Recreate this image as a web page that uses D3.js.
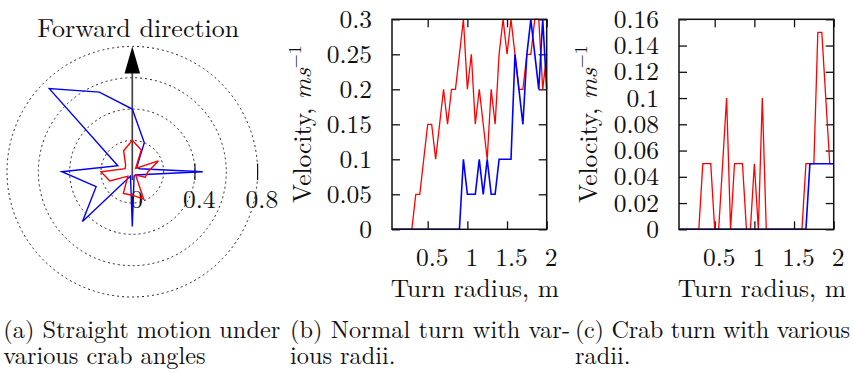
<!DOCTYPE html>
<html>
<head>
<meta charset="utf-8">
<script src="https://cdn.jsdelivr.net/npm/d3@7"></script>
</head>
<body style="margin:0;background:#fff">
<svg width="854" height="373"></svg>
<script>

// ---- data ----
// (a) straight motion, polar: crab angle (deg, ccw from right) -> velocity
var angles = [0, 22.5, 45, 67.5, 90, 112.5, 135, 157.5, 180, 202.5, 225, 247.5, 270, 292.5, 315, 337.5];
var straightBlue = [0.45, 0.05, 0.04, 0.2, 0.4, 0.55, 0.75, 0.1, 0.45, 0.25, 0.45, 0.03, 0.35, 0.03, 0.03, 0.05];
var straightRed  = [0.1, 0.18, 0.03, 0.15, 0.2, 0.145, 0.06, 0.05, 0.2, 0.155, 0.04, 0.15, 0.15, 0.19, 0.03, 0.09];
var polarRings = [0.2, 0.4, 0.6, 0.8];
var polarTicks = [0, 0.4, 0.8];

// (b), (c) turn radius in m
var radii = [0.05, 0.1, 0.15, 0.2, 0.25, 0.3, 0.35, 0.4, 0.45, 0.5,
             0.55, 0.6, 0.65, 0.7, 0.75, 0.8, 0.85, 0.9, 0.95, 1,
             1.05, 1.1, 1.15, 1.2, 1.25, 1.3, 1.35, 1.4, 1.45, 1.5,
             1.55, 1.6, 1.65, 1.7, 1.75, 1.8, 1.85, 1.9, 1.95, 2];

var normalRed  = [0, 0, 0, 0, 0, 0, 0.05, 0.05, 0.1, 0.15,
                  0.15, 0.1, 0.15, 0.2, 0.15, 0.2, 0.2, 0.25, 0.3, 0.2,
                  0.25, 0.15, 0.2, 0.15, 0.1, 0.2, 0.15, 0.25, 0.3, 0.25,
                  0.3, 0.25, 0.2, 0.2, 0.25, 0.25, 0.3, 0.3, 0.2, 0.25];
var normalBlue = [0, 0, 0, 0, 0, 0, 0, 0, 0, 0,
                  0, 0, 0, 0, 0, 0, 0, 0, 0.1, 0.05,
                  0.05, 0.05, 0.1, 0.05, 0.1, 0.05, 0.05, 0.1, 0.1, 0.1,
                  0.1, 0.25, 0.2, 0.15, 0.25, 0.3, 0.25, 0.2, 0.3, 0.2];

var crabRed  = [0, 0, 0, 0, 0, 0, 0.05, 0.05, 0.05, 0,
                0, 0.05, 0.1, 0, 0.05, 0.05, 0.05, 0, 0, 0.05,
                0, 0.1, 0, 0, 0, 0, 0, 0, 0, 0,
                0, 0, 0.05, 0.05, 0.05, 0.15, 0.15, 0.1, 0.05, 0.05];
var crabBlue = [0, 0, 0, 0, 0, 0, 0, 0, 0, 0,
                0, 0, 0, 0, 0, 0, 0, 0, 0, 0,
                0, 0, 0, 0, 0, 0, 0, 0, 0, 0,
                0, 0, 0, 0.05, 0.05, 0.05, 0.05, 0.05, 0.05, 0.05];

var xTicks = [0.5, 1, 1.5, 2];
var normalYTicks = [0, 0.05, 0.1, 0.15, 0.2, 0.25, 0.3];
var crabYTicks = [0, 0.02, 0.04, 0.06, 0.08, 0.1, 0.12, 0.14, 0.16];

var captions = [
  ["(a) Straight motion under", "various crab angles"],
  ["(b) Normal turn with var-", "ious radii."],
  ["(c) Crab turn with various", "radii."]
];

// Latin Modern is the Computer Modern look-alike
var FONT = "'Latin Modern Roman', 'Liberation Serif', monospace";
var FS = 25.5;

var svg = d3.select("svg").attr("font-family", FONT);

// ---- (a) polar plot ----
var r = d3.scaleLinear().domain([0, 0.8]).range([0, 125.3]);
var polar = svg.append("g").attr("transform", "translate(132.3,171.7)");

polar.selectAll("circle.ring")
  .data(polarRings)
  .enter().append("circle")
    .attr("class", "ring")
    .attr("r", function(d) { return r(d); })
    .attr("fill", "none")
    .attr("stroke", "#222")
    .attr("stroke-width", 1)
    .attr("stroke-dasharray", "2,3");

// radial axis ticks and labels
polar.selectAll("line.rtick")
  .data(polarTicks.filter(function(d) { return d > 0; }))
  .enter().append("line")
    .attr("class", "rtick")
    .attr("x1", function(d) { return r(d); })
    .attr("x2", function(d) { return r(d); })
    .attr("y1", -8.3)
    .attr("y2", 8.3)
    .attr("stroke", "#111")
    .attr("stroke-width", 1.2);

polar.selectAll("text.rlabel")
  .data(polarTicks)
  .enter().append("text")
    .attr("class", "rlabel")
    .attr("x", function(d) { return r(d) + 4.3; })
    .attr("y", 36.3)
    .attr("text-anchor", "middle")
    .attr("font-family", FONT)
    .attr("font-size", FS)
    .attr("fill", "#111")
    .text(function(d) { return d; });

// forward direction arrow
polar.append("line")
  .attr("x1", 0).attr("x2", 0)
  .attr("y1", 8.3)
  .attr("y2", -r(0.8) + 26)
  .attr("stroke", "#444")
  .attr("stroke-width", 1.7);
polar.append("path")
  .attr("d", "M0," + (-r(0.8)) + "L-7.8," + (-r(0.8) + 27) + "L7.8," + (-r(0.8) + 27) + "Z")
  .attr("fill", "#000");

svg.append("text")
  .attr("x", 138.2)
  .attr("y", 37.3)
  .attr("text-anchor", "middle")
  .attr("font-family", FONT)
  .attr("font-size", 26)
  .attr("fill", "#111")
  .text("Forward direction");

var radial = d3.lineRadial()
  .angle(function(d, i) { return (90 - angles[i]) * Math.PI / 180; })
  .radius(function(d) { return r(d); })
  .curve(d3.curveLinearClosed);

polar.append("path")
  .attr("d", radial(straightBlue))
  .attr("fill", "none")
  .attr("stroke", "#0000ff")
  .attr("stroke-width", 1.4);
polar.append("path")
  .attr("d", radial(straightRed))
  .attr("fill", "none")
  .attr("stroke", "#ff0000")
  .attr("stroke-width", 1.4);

// ---- (b), (c) line panels ----
function panel(left, yDomain, yTicks, redVals, blueVals, titleX) {
  var top = 19.3, bottom = 229.3, w = 154.7;
  var x = d3.scaleLinear().domain([radii[0], 2]).range([left, left + w]);
  var y = d3.scaleLinear().domain(yDomain).range([bottom, top]);

  function style(g) {
    g.attr("font-family", FONT).attr("font-size", FS).attr("color", "#111");
    g.select(".domain").remove();
    g.selectAll(".tick line").attr("stroke-width", 1.3);
  }

  svg.append("g")
    .attr("transform", "translate(" + left + ",0)")
    .call(d3.axisLeft(y).tickValues(yTicks).tickSizeInner(-8).tickSizeOuter(0)
      .tickPadding(20).tickFormat(function(d) { return d; }))
    .call(style);
  svg.append("g")
    .attr("transform", "translate(" + (left + w) + ",0)")
    .call(d3.axisRight(y).tickValues(yTicks).tickSizeInner(-8).tickSizeOuter(0).tickFormat(""))
    .call(style);
  svg.append("g")
    .attr("transform", "translate(0," + bottom + ")")
    .call(d3.axisBottom(x).tickValues(xTicks).tickSizeInner(-8).tickSizeOuter(0)
      .tickPadding(19).tickFormat(function(d) { return d; }))
    .call(style)
    .selectAll("text").attr("dx", 4);
  svg.append("g")
    .attr("transform", "translate(0," + top + ")")
    .call(d3.axisTop(x).tickValues(xTicks).tickSizeInner(-8).tickSizeOuter(0).tickFormat(""))
    .call(style);

  var line = d3.line()
    .x(function(d, i) { return x(radii[i]); })
    .y(function(d) { return y(d); });

  svg.append("path")
    .attr("d", line(redVals))
    .attr("fill", "none")
    .attr("stroke", "#ff0000")
    .attr("stroke-width", 1.3);
  svg.append("path")
    .attr("d", line(blueVals))
    .attr("fill", "none")
    .attr("stroke", "#0000ff")
    .attr("stroke-width", 1.6);

  svg.append("rect")
    .attr("x", left).attr("y", top)
    .attr("width", w).attr("height", bottom - top)
    .attr("fill", "none")
    .attr("stroke", "#111")
    .attr("stroke-width", 1.5);

  svg.append("text")
    .attr("x", left + w / 2 + 5.5)
    .attr("y", 297)
    .attr("text-anchor", "middle")
    .attr("font-family", FONT)
    .attr("font-size", FS)
    .attr("fill", "#111")
    .text("Turn radius, m");

  var yt = svg.append("text")
    .attr("transform", "translate(" + titleX + ",124) rotate(-90)")
    .attr("text-anchor", "middle")
    .attr("font-family", FONT)
    .attr("font-size", FS)
    .attr("fill", "#111");
  yt.append("tspan").text("Velocity, ");
  yt.append("tspan").attr("font-style", "italic").text("ms");
  yt.append("tspan").attr("font-size", 18).attr("dy", -10).text("\u22121");
}

panel(392, [0, 0.3], normalYTicks, normalRed, normalBlue, 311);
panel(679, [0, 0.16], crabYTicks, crabRed, crabBlue, 597);

// ---- captions ----
var capX = [3.3, 290, 575];
var capW = [277, 280, 275];
captions.forEach(function(lines, k) {
  lines.forEach(function(s, j) {
    var t = svg.append("text")
      .attr("x", capX[k])
      .attr("y", 337.7 + j * 26.6)
      .attr("font-family", FONT)
      .attr("font-size", 24.3)
      .attr("fill", "#111")
      .text(s);
    if (j === 0) t.attr("textLength", capW[k]).attr("lengthAdjust", "spacing");
  });
});
</script>
</body>
</html>
